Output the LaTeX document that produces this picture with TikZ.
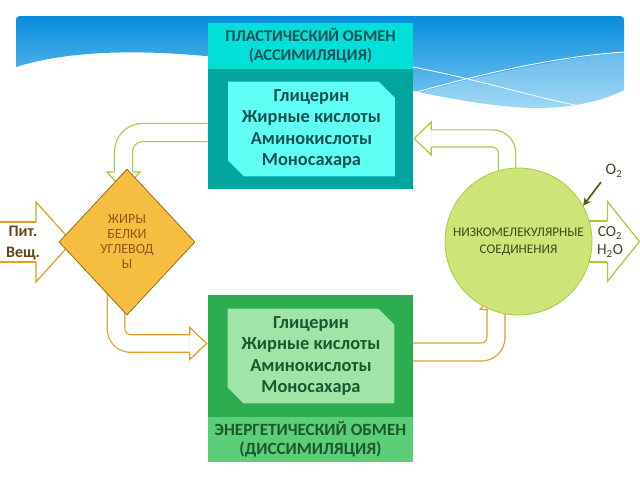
\documentclass[tikz,border=0pt]{standalone}
\usepackage{fontspec}
\setmainfont{Carlito}
\usetikzlibrary{shapes.geometric,shapes.misc,arrows.meta}

\definecolor{bannertop}{RGB}{8,140,220}
\definecolor{bannerbot}{RGB}{125,202,242}
\definecolor{plastcap}{RGB}{0,224,216}
\definecolor{plastfill}{RGB}{0,166,158}
\definecolor{plastpanel}{RGB}{96,255,246}
\definecolor{plastink}{RGB}{22,82,82}
\definecolor{energcap}{RGB}{90,207,120}
\definecolor{energfill}{RGB}{46,173,80}
\definecolor{energpanel}{RGB}{160,229,168}
\definecolor{energink}{RGB}{28,88,44}
\definecolor{fatfill}{RGB}{245,190,64}
\definecolor{fatline}{RGB}{150,110,30}
\definecolor{fatink}{RGB}{140,90,30}
\definecolor{feedink}{RGB}{100,70,20}
\definecolor{arrowgold}{RGB}{222,160,30}
\definecolor{arrowgreen}{RGB}{170,200,60}
\definecolor{molfill}{RGB}{205,229,120}
\definecolor{molink}{RGB}{60,72,30}
\definecolor{oxyline}{RGB}{80,95,20}

\pgfdeclarelayer{banner}
\pgfdeclarelayer{arrows}
\pgfsetlayers{banner,arrows,main}

\begin{document}
\begin{tikzpicture}[
    x=0.75pt, y=-0.75pt,
    capbox/.style={
        rectangle, minimum width=153.75pt, inner sep=0pt, align=center,
        font=\bfseries\fontsize{12.3}{14.25}\selectfont
    },
    bodybox/.style={
        rectangle, minimum width=153.75pt, inner sep=0pt
    },
    panelbox/.style={
        chamfered rectangle, chamfered rectangle corners={north east,south west},
        chamfered rectangle xsep=6pt, chamfered rectangle ysep=6pt,
        minimum width=125pt, minimum height=61.5pt, inner sep=0pt,
        align=center, font=\bfseries\fontsize{13.8}{16}\selectfont
    },
    greenarrow/.style={draw=arrowgreen, line width=0.9pt, double=white},
    goldarrow/.style={draw=arrowgold, line width=0.9pt, double=white},
    greentip/.style={draw=arrowgreen, fill=white, line width=0.9pt},
    goldtip/.style={draw=arrowgold, fill=white, line width=0.9pt},
    oxyarrow/.style={draw=oxyline, line width=1.3pt, -{Stealth[length=6pt,width=6pt]}}
]
\useasboundingbox (0,0) rectangle (640,480);

% Banner
\begin{pgfonlayer}{banner}
\shade[top color=bannertop, bottom color=bannerbot]
    (16,67) -- (16,24) .. controls (16,16) .. (24,16) -- (616,16)
    .. controls (624,16) .. (624,24) -- (624,90)
    .. controls (600,102) and (570,108) .. (535,108)
    .. controls (440,106) and (330,64) .. (205,56)
    .. controls (140,50) and (70,50) .. (16,67) -- cycle;
\fill[white, opacity=0.25]
    (413,94) .. controls (480,76) and (560,58) .. (624,52) -- (624,90)
    .. controls (600,102) and (570,108) .. (535,108)
    .. controls (480,107) and (440,101) .. (413,97) -- cycle;
\draw[white, line width=0.6pt] (413,67) .. controls (480,80) and (530,96) .. (575,105);
\draw[white, line width=0.6pt] (413,93) .. controls (480,74) and (560,56) .. (624,52);
\end{pgfonlayer}

% Plastic exchange (top)
\node[capbox, fill=plastcap, text=plastink, minimum height=34.5pt] (plasthead) at (310.5,46) {ПЛАСТИЧЕСКИЙ ОБМЕН\\(АССИМИЛЯЦИЯ)};
\node[bodybox, fill=plastfill, minimum height=90pt] (plastbody) at (310.5,129) {};
\node[panelbox, fill=plastpanel, text=plastink] (plastpanel) at (311.5,129) {Глицерин\\Жирные кислоты\\Аминокислоты\\Моносахара};

% Energy exchange (bottom)
\node[bodybox, fill=energfill, minimum height=91.5pt] (energbody) at (310.5,356) {};
\node[panelbox, fill=energpanel, text=energink] (energpanel) at (311,356) {Глицерин\\Жирные кислоты\\Аминокислоты\\Моносахара};
\node[capbox, fill=energcap, text=energink, minimum height=33.75pt, font=\bfseries\fontsize{12.9}{14.25}\selectfont] (energhead) at (310.5,439.5) {ЭНЕРГЕТИЧЕСКИЙ ОБМЕН\\(ДИССИМИЛЯЦИЯ)};

% Food substances
\node[diamond, draw=fatline, fill=fatfill, line width=0.6pt, minimum width=102pt, minimum height=109.5pt,
      inner sep=0pt, align=center, text=fatink, font=\fontsize{10.5}{11.25}\selectfont] (fats) at (127,242) {ЖИРЫ\\БЕЛКИ\\УГЛЕВОД\\Ы};
\node[circle, draw=arrowgreen, fill=molfill, line width=0.6pt, minimum size=110.25pt, inner sep=0pt,
      align=center, text=molink, font=\fontsize{9.9}{12.75}\selectfont] (lowmol) at (518.5,241.5) {НИЗКОМЕЛЕКУЛЯРНЫЕ\\СОЕДИНЕНИЯ};

% Labels
\node[font=\bfseries\fontsize{12}{15.75}\selectfont, text=feedink, align=center] (feedtxt) at (23,243) {Пит.\\Вещ.};
\node[font=\fontsize{11.5}{13.5}\selectfont, text=molink, align=center] (gases) at (610,242) {CO\textsubscript{2}\\H\textsubscript{2}O};
\node[font=\fontsize{12}{13}\selectfont, text=molink] (oxy) at (614,171) {O\textsubscript{2}};

% Block arrows
\coordinate (feed)    at (0,242);
\coordinate (feedhd)  at (36,242);
\coordinate (plasthd) at (123.5,172);
\coordinate (energhd) at ([xshift=-13.5pt,yshift=9.4pt]energbody.west);
\coordinate (backhd)  at ([xshift=13.5pt,yshift=-7.1pt]plastbody.east);
\coordinate (lowhd)   at ([xshift=-16.9pt,yshift=4.5pt]lowmol.south);
\coordinate (outhd)   at ([xshift=11.25pt]lowmol.east);

\begin{pgfonlayer}{arrows}
\draw[goldarrow, double distance=29.1pt] (feed) -- (feedhd);
\path[goldtip] (feedhd) ++(0,-20) -- ++(0,-20) -- ++(36,40) -- ++(-36,40) -- ++(0,-20);

\draw[greenarrow, double distance=12.6pt, rounded corners=14.5pt] ([yshift=-2.6pt]plastbody.west) -| (plasthd);
\path[greentip] (plasthd) ++(-9,0) -- ++(-7.5,0) -- ++(16.5,18) -- ++(16.5,-18) -- ++(-7.5,0);

\draw[goldarrow, double distance=12.3pt, rounded corners=11pt] ([xshift=-8.25pt]fats.center) |- (energhd);
\path[goldtip] (energhd) ++(0,-8.5) -- ++(0,-7.5) -- ++(17,16) -- ++(-17,16) -- ++(0,-7.5);

\draw[greenarrow, double distance=12pt, rounded corners=11pt] ([xshift=-8.6pt]lowmol.center) |- (backhd);
\path[greentip] (backhd) ++(0,-8.5) -- ++(0,-8) -- ++(-17,16.5) -- ++(17,16.5) -- ++(0,-8);

\draw[goldarrow, double distance=12.6pt, rounded corners=11pt] ([yshift=3pt]energbody.center) -| (lowhd);
\path[goldtip] (lowhd) ++(-8,0) -- ++(-8,0) -- ++(16,-16) -- ++(16,16) -- ++(-8,0);

\draw[greenarrow, double distance=29.85pt] (lowmol.center) -- (outhd);
\path[greentip] (outhd) ++(0,-20.5) -- ++(0,-19.5) -- ++(32,40) -- ++(-32,40) -- ++(0,-19.5);
\end{pgfonlayer}

% Oxygen
\draw[oxyarrow] (oxy.south west) -- (lowmol.29);

\end{tikzpicture}
\end{document}
